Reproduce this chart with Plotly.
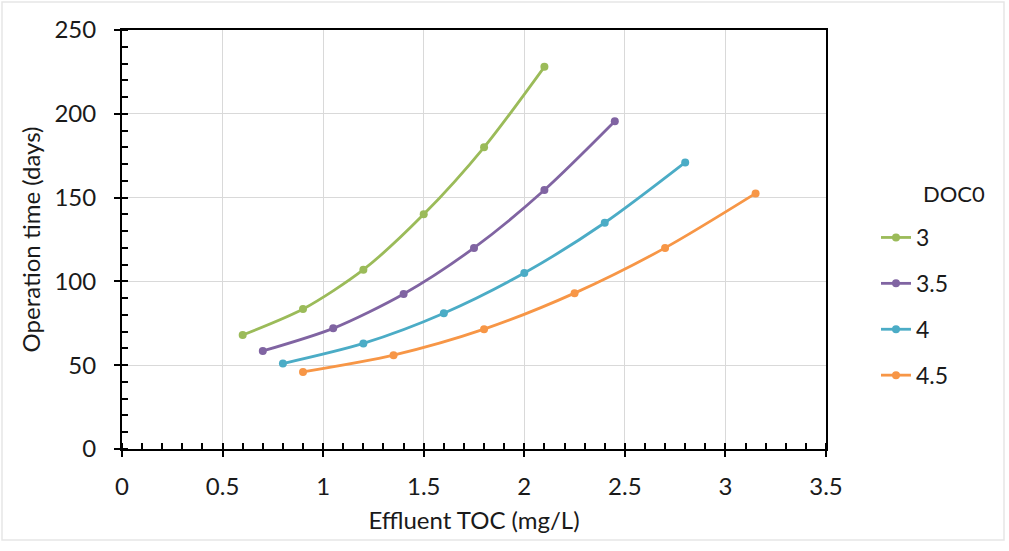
import plotly.graph_objects as go

series_names = ["3", "3.5", "4", "4.5"]
colors = ["#9BBB59", "#8064A2", "#4BACC6", "#F79646"]
x_3 = [0.6, 0.9, 1.2, 1.5, 1.8, 2.1]
y_3 = [68, 83.5, 107, 140, 180, 228]
x_35 = [0.7, 1.05, 1.4, 1.75, 2.1, 2.45]
y_35 = [58.5, 72, 92.5, 120, 154.5, 195.5]
x_4 = [0.8, 1.2, 1.6, 2.0, 2.4, 2.8]
y_4 = [51, 63, 81, 105, 135, 171]
x_45 = [0.9, 1.35, 1.8, 2.25, 2.7, 3.15]
y_45 = [46, 56, 71.5, 93, 120, 152.5]

xs = [x_3, x_35, x_4, x_45]
ys = [y_3, y_35, y_4, y_45]

FONT = "Lato, 'Open Sans', sans-serif"
TXT = "#1a1a1a"

fig = go.Figure()
for name, c, x, y in zip(series_names, colors, xs, ys):
    fig.add_trace(go.Scatter(
        x=x, y=y, name=name, mode="lines+markers", legendgroup=name,
        line=dict(color=c, width=2.8, shape="spline", smoothing=0.8),
        marker=dict(color=c, size=8),
    ))

axis_common = dict(
    showline=True, linecolor="black", linewidth=2, mirror=True,
    showgrid=True, gridcolor="#D9D9D9", gridwidth=1,
    ticks="outside", ticklen=6, tickwidth=2, tickcolor="black",
    zeroline=False,
    tickfont=dict(size=24, color=TXT, family=FONT),
)

fig.update_layout(
    width=1009, height=551,
    margin=dict(l=122, r=183, t=30, b=102),
    paper_bgcolor="white", plot_bgcolor="white",
    font=dict(family=FONT, color=TXT),
    xaxis=dict(
        range=[0, 3.5], dtick=0.5, tick0=0,
        title=dict(text="Effluent TOC (mg/L)", font=dict(size=24, family=FONT, color=TXT), standoff=13),
        minor=dict(dtick=0.1, ticks="inside", ticklen=6, tickwidth=2, tickcolor="black", showgrid=False),
        ticklabelstandoff=9,
        **axis_common,
    ),
    yaxis=dict(
        range=[0, 250], dtick=50, tick0=0,
        title=dict(text="Operation time (days)", font=dict(size=24, family=FONT, color=TXT), standoff=7),
        minor=dict(dtick=10, ticks="inside", ticklen=6, tickwidth=2, tickcolor="black", showgrid=False),
        ticklabelstandoff=13,
        **axis_common,
    ),
    xaxis2=dict(overlaying="x", matches="x", range=[0, 3.5], dtick=0.5, tick0=0,
                ticks="inside", ticklen=6, tickwidth=2, tickcolor="black",
                showticklabels=False, showgrid=False, showline=False, zeroline=False,
                side="bottom", anchor="y"),
    yaxis2=dict(overlaying="y", matches="y", range=[0, 250], dtick=50, tick0=0,
                ticks="inside", ticklen=6, tickwidth=2, tickcolor="black",
                showticklabels=False, showgrid=False, showline=False, zeroline=False,
                side="left", anchor="x"),
    legend=dict(
        x=(876 - 122) / 704, y=(449 - 216) / 419, xanchor="left", yanchor="top",
        font=dict(size=23, family=FONT, color=TXT),
        tracegroupgap=13, itemwidth=30, traceorder="grouped",
    ),
    showlegend=True,
)

fig.add_annotation(text="DOC0", xref="paper", yref="paper",
                   x=(921 - 122) / 704, y=(449 - 193) / 419,
                   xanchor="left", yanchor="middle", showarrow=False,
                   font=dict(size=22, family=FONT, color=TXT))

# invisible trace to activate overlay axes
fig.add_trace(go.Scatter(x=[0], y=[0], xaxis="x2", yaxis="y2", mode="markers",
                         marker=dict(opacity=0), showlegend=False, hoverinfo="skip"))

# faint outer border
fig.add_shape(type="rect", xref="paper", yref="paper",
              x0=(2 - 122) / 704, x1=(1004 - 122) / 704,
              y0=(449 - 540) / 419, y1=(449 - 2) / 419,
              line=dict(color="#E6E6E6", width=1.5), layer="below")

fig.write_html("out.html")
